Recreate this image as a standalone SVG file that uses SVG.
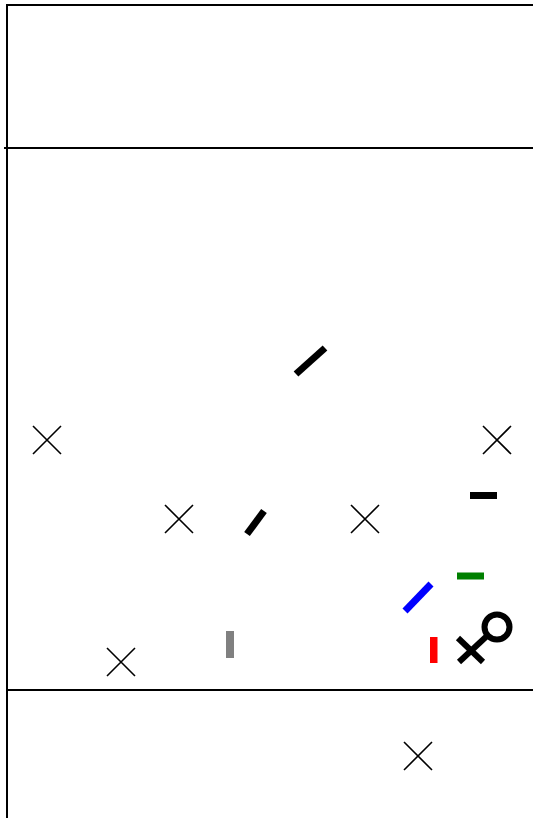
<svg xmlns="http://www.w3.org/2000/svg" width="533" height="818" viewBox="0 0 533 818">
<style>
.frame{stroke:#000;stroke-width:2;fill:none}
.x{stroke:#000;stroke-width:1.6;fill:none}
.bar{stroke-width:7;stroke-linecap:butt;fill:none}
</style>
<defs>
<path id="cross" class="x" d="M-14,-14L14,14M-14,14L14,-14"/>
</defs>
<rect width="533" height="818" fill="#fff"/>
<g id="frame">
<path class="frame" d="M7,818V5H533"/>
<path class="frame" d="M4,148H533"/>
<path class="frame" d="M7,690H533"/>
</g>
<g id="crosses">
<use href="#cross" x="47" y="440"/>
<use href="#cross" x="497" y="440"/>
<use href="#cross" x="179" y="519"/>
<use href="#cross" x="365" y="519"/>
<use href="#cross" x="121" y="662"/>
<use href="#cross" x="418" y="756"/>
</g>
<g id="marks">
<line class="bar" stroke="#000" x1="296" y1="374" x2="325" y2="348"/>
<line class="bar" stroke="#000" x1="247" y1="534" x2="264" y2="511"/>
<line class="bar" stroke="#0000ff" x1="405" y1="611" x2="431" y2="584"/>
<rect x="430" y="637" width="7.5" height="26" fill="#ff0000"/>
<rect x="457" y="572.5" width="27" height="7" fill="#008000"/>
<rect x="470" y="492" width="27" height="7" fill="#000"/>
<rect x="226" y="631" width="8" height="27" fill="#808080"/>
</g>
<g id="symbol" stroke="#000" stroke-width="6" fill="none">
<circle cx="497" cy="627" r="12.5"/>
<line x1="458" y1="638" x2="483" y2="662"/>
<line x1="459" y1="662" x2="488" y2="635"/>
</g>
</svg>
